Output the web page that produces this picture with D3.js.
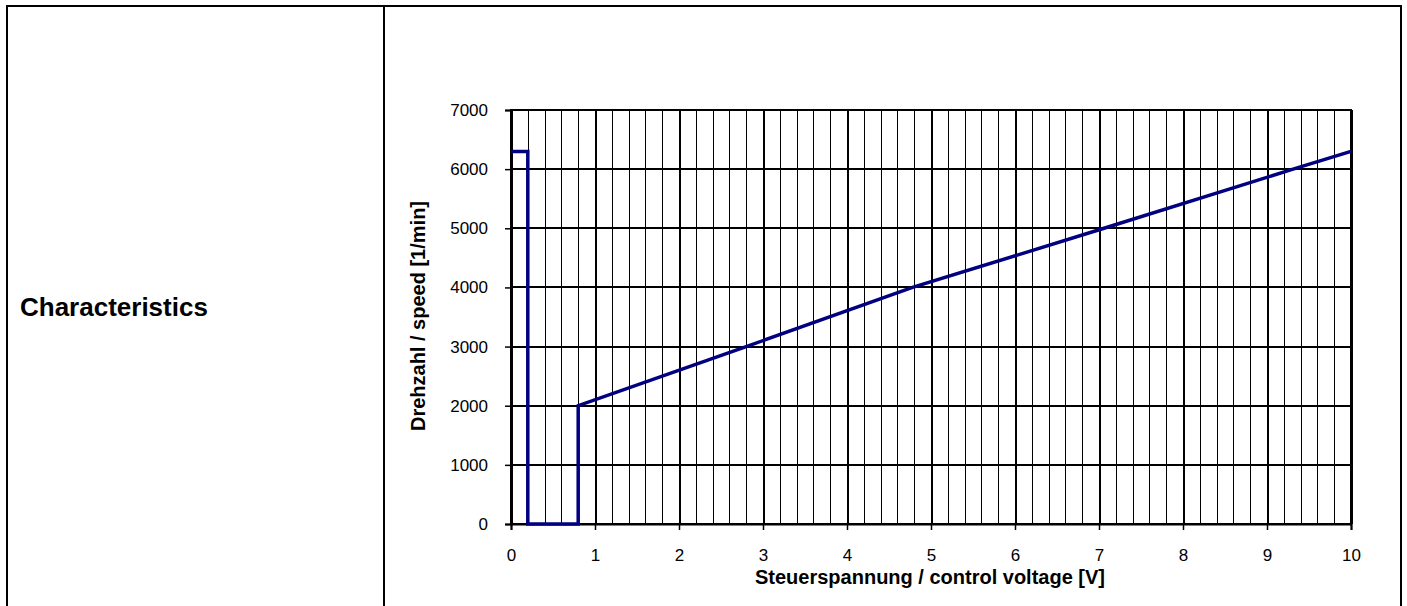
<!DOCTYPE html>
<html>
<head>
<meta charset="utf-8">
<script src="https://cdn.jsdelivr.net/npm/d3@7"></script>
<style>
  body { margin: 0; background: #fff; }
  text { font-family: Arial, "Liberation Sans", sans-serif; }
</style>
</head>
<body>
<script>
// chart values
var voltage = [0, 0.2, 0.2, 0.8, 0.8, 2.8, 4.78, 7.06, 9.31, 10];
var speed   = [6300, 6300, 0, 0, 2000, 3000, 4000, 5000, 6000, 6300];
var xTicks = [0, 1, 2, 3, 4, 5, 6, 7, 8, 9, 10];
var yTicks = [0, 1000, 2000, 3000, 4000, 5000, 6000, 7000];
var xGrid = d3.range(0, 51).map(function(i) { return i / 5; });
var rowLabel = "Characteristics";
var xTitle = "Steuerspannung / control voltage [V]";
var yTitle = "Drehzahl / speed [1/min]";

var width = 1407, height = 606;

var svg = d3.select("body")
    .append("svg")
    .attr("width", width)
    .attr("height", height);

// table cell borders
var table = svg.append("g")
    .attr("stroke", "black")
    .attr("stroke-width", 2)
    .attr("shape-rendering", "crispEdges");
table.append("line").attr("x1", 6).attr("y1", 6).attr("x2", 1402).attr("y2", 6);
table.append("line").attr("x1", 7).attr("y1", 6).attr("x2", 7).attr("y2", height);
table.append("line").attr("x1", 384).attr("y1", 6).attr("x2", 384).attr("y2", height);
table.append("line").attr("x1", 1401).attr("y1", 6).attr("x2", 1401).attr("y2", height);

svg.append("text")
    .attr("x", 20)
    .attr("y", 316)
    .attr("font-size", 26)
    .attr("font-weight", "bold")
    .text(rowLabel);

// scales
var x = d3.scaleLinear().domain([0, 10]).range([511, 1351]);
var y = d3.scaleLinear().domain([0, 7000]).range([524, 110]);

// vertical grid every 0.2 V
svg.append("g")
    .selectAll("line")
    .data(xGrid)
    .enter()
    .append("line")
    .attr("x1", function(d) { return Math.round(x(d)) + 0.5; })
    .attr("x2", function(d) { return Math.round(x(d)) + 0.5; })
    .attr("y1", y(7000))
    .attr("y2", y(0))
    .attr("stroke", "black")
    .attr("stroke-width", function(d, i) { return i % 5 == 0 ? 2 : 1; })
    .attr("shape-rendering", "crispEdges");

// horizontal grid every 1000
svg.append("g")
    .selectAll("line")
    .data(yTicks)
    .enter()
    .append("line")
    .attr("x1", x(0))
    .attr("x2", x(10))
    .attr("y1", function(d) { return y(d); })
    .attr("y2", function(d) { return y(d); })
    .attr("stroke", "black")
    .attr("stroke-width", 2)
    .attr("shape-rendering", "crispEdges");

// axes (ticks and labels)
var xAxis = svg.append("g")
    .attr("transform", "translate(0," + y(0) + ")")
    .call(d3.axisBottom(x).tickValues(xTicks).tickSize(6).tickPadding(19).tickFormat(d3.format("d")));
var yAxis = svg.append("g")
    .attr("transform", "translate(" + x(0) + ",0)")
    .call(d3.axisLeft(y).tickValues(yTicks).tickSize(6).tickPadding(17).tickFormat(d3.format("d")));

[xAxis, yAxis].forEach(function(ax) {
    ax.select(".domain").attr("stroke", "black").attr("stroke-width", 2);
    ax.selectAll(".tick line").attr("stroke", "black").attr("stroke-width", 1.5);
    ax.selectAll(".tick text")
        .attr("font-size", 17)
        .attr("font-family", "Arial, 'Liberation Sans', sans-serif")
        .attr("fill", "black");
});

// right and top borders of the plot
svg.append("rect")
    .attr("x", x(0))
    .attr("y", y(7000))
    .attr("width", x(10) - x(0))
    .attr("height", y(0) - y(7000))
    .attr("fill", "none")
    .attr("stroke", "black")
    .attr("stroke-width", 2)
    .attr("shape-rendering", "crispEdges");

// the characteristic line
var pts = voltage.map(function(v, i) { return [v, speed[i]]; });
svg.append("path")
    .datum(pts)
    .attr("d", d3.line()
        .x(function(d) { return x(d[0]); })
        .y(function(d) { return y(d[1]); }))
    .attr("fill", "none")
    .attr("stroke", "#000080")
    .attr("stroke-width", 3.5)
    .attr("stroke-linejoin", "miter");

// axis titles
svg.append("text")
    .attr("x", 930)
    .attr("y", 584)
    .attr("text-anchor", "middle")
    .attr("font-size", 20)
    .attr("font-weight", "bold")
    .text(xTitle);

svg.append("text")
    .attr("transform", "translate(425,316) rotate(-90)")
    .attr("text-anchor", "middle")
    .attr("font-size", 20)
    .attr("font-weight", "bold")
    .text(yTitle);
</script>
</body>
</html>
